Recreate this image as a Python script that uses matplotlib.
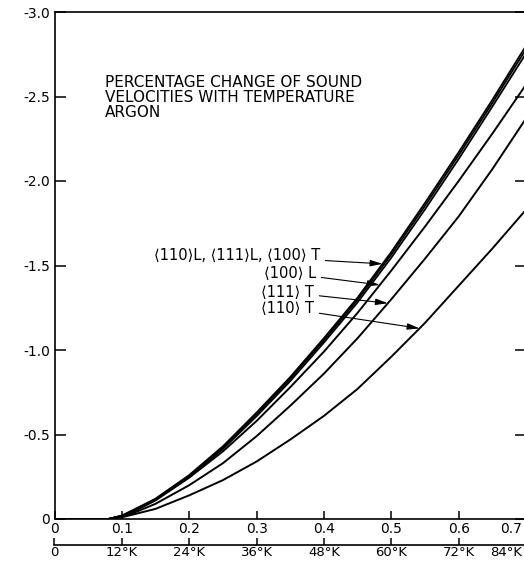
import numpy as np
import matplotlib
matplotlib.use("Agg")
import matplotlib.pyplot as plt
from matplotlib.transforms import ScaledTranslation

plt.rcParams['font.family'] = ['DejaVu Sans', 'Noto Sans', 'Noto Sans CJK SC']

# reduced temperature T/theta and percentage change of sound velocity
t_red = [0.0, 0.08, 0.10, 0.12, 0.15, 0.20, 0.25, 0.30, 0.35, 0.40, 0.45, 0.50, 0.55, 0.60, 0.65, 0.70]
v_110L = [0, 0, -0.02, -0.06, -0.12, -0.26, -0.43, -0.63, -0.84, -1.07, -1.31, -1.58, -1.87, -2.17, -2.48, -2.80]
v_111L = [0, 0, -0.02, -0.055, -0.118, -0.255, -0.423, -0.62, -0.83, -1.058, -1.298, -1.565, -1.853, -2.152, -2.462, -2.78]
v_100T = [0, 0, -0.018, -0.05, -0.113, -0.248, -0.414, -0.608, -0.816, -1.044, -1.282, -1.546, -1.832, -2.13, -2.44, -2.755]
v_100L = [0, 0, -0.018, -0.05, -0.11, -0.245, -0.40, -0.58, -0.78, -0.99, -1.22, -1.47, -1.73, -2.00, -2.28, -2.57]
v_111T = [0, 0, -0.015, -0.04, -0.09, -0.20, -0.33, -0.49, -0.67, -0.86, -1.07, -1.30, -1.54, -1.79, -2.07, -2.37]
v_110T = [0, 0, -0.01, -0.03, -0.06, -0.14, -0.23, -0.34, -0.47, -0.61, -0.77, -0.96, -1.16, -1.38, -1.60, -1.83]

x_ticks = [0, 0.1, 0.2, 0.3, 0.4, 0.5, 0.6, 0.7]
x_labels = ['0', '0.1', '0.2', '0.3', '0.4', '0.5', '0.6', '0.7']
y_ticks = [-3.0, -2.5, -2.0, -1.5, -1.0, -0.5, 0]
y_labels = ['-3.0', '-2.5', '-2.0', '-1.5', '-1.0', '-0.5', '0']
k_ticks = [0, 12, 24, 36, 48, 60, 72, 84]
k_labels = ['0', '12°K', '24°K', '36°K', '48°K', '60°K', '72°K', '84°K']
theta = 120.0  # kelvin per unit of T/theta

fig = plt.figure(figsize=(5.24, 5.61), dpi=100)
ax = fig.add_axes([54.5 / 524, 1 - 519 / 561, (526 - 54.5) / 524, (519 - 12) / 561])

# the L bundle is three nearly coincident curves
for v in (v_110L, v_111L, v_100T):
    ax.plot(t_red, v, color='black', lw=1.3, solid_capstyle='round')
for v in (v_100L, v_111T, v_110T):
    ax.plot(t_red, v, color='black', lw=1.4)

ax.set_xlim(0, 0.7)
ax.set_ylim(0, -3.0)
ax.set_xticks(x_ticks)
ax.set_xticklabels(x_labels, fontsize=10)
ax.set_yticks(y_ticks)
ax.set_yticklabels(y_labels, fontsize=10)
ax.tick_params(axis='x', direction='in', length=6, width=1.1, pad=2)
ax.tick_params(axis='y', direction='in', length=8, width=1.1, pad=3, right=True)
for s in ax.spines.values():
    s.set_linewidth(1.2)

# second scale in kelvin below the first
sec = ax.secondary_xaxis(-0.051, functions=(lambda x: x * theta, lambda k: k / theta))
sec.set_xticks(k_ticks)
sec.set_xticklabels(k_labels, fontsize=9.5)
sec.tick_params(direction='in', length=5, width=1.1, pad=1)
sec.spines['bottom'].set_linewidth(1.2)

# pull the last labels on both scales inside the right edge
shift = ScaledTranslation(-3 / 72, 0, fig.dpi_scale_trans)
for lab in (ax.get_xticklabels()[-1], sec.get_xticklabels()[-1]):
    lab.set_ha('right')
    lab.set_transform(lab.get_transform() + shift)

ax.text(0.075, -2.63, 'PERCENTAGE CHANGE OF SOUND\nVELOCITIES WITH TEMPERATURE\nARGON',
        fontsize=11, va='top', ha='left', linespacing=1.0)

labels = [
    ('⟨110⟩L, ⟨111⟩L, ⟨100⟩ T', 0.394, -1.559, 0.487, v_110L),
    ('⟨100⟩ L', 0.388, -1.453, 0.483, v_100L),
    ('⟨111⟩ T', 0.385, -1.341, 0.495, v_111T),
    ('⟨110⟩ T', 0.385, -1.246, 0.542, v_110T),
]
for txt, tx, ty, px, curve in labels:
    py = np.interp(px, t_red, curve)
    ax.annotate(txt, xy=(px, py), xytext=(tx, ty), fontsize=10.5, ha='right', va='center',
                arrowprops=dict(arrowstyle='-|>,head_length=0.7,head_width=0.18',
                                color='black', lw=0.8, shrinkA=2, shrinkB=0))

fig.savefig('out.png', dpi=100)
